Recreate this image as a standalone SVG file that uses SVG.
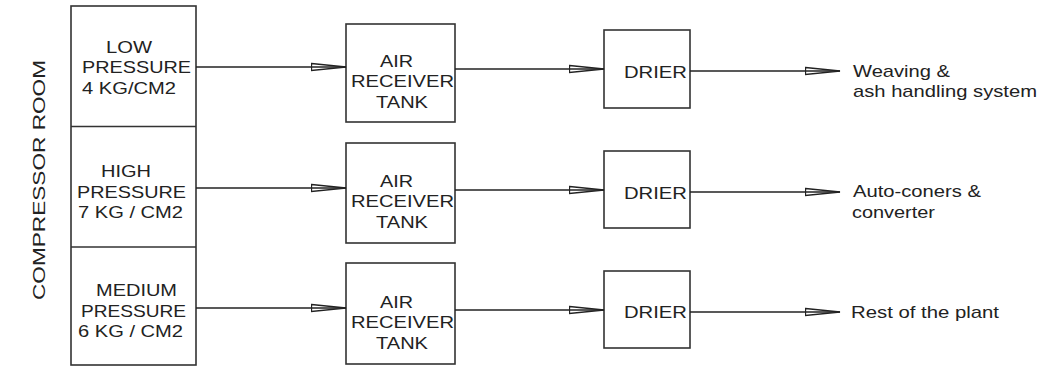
<svg xmlns="http://www.w3.org/2000/svg" width="1045" height="367" viewBox="0 0 1045 367">
<style>
.box{fill:#fff;stroke:#333;stroke-width:1.6}
.t{font-family:"Liberation Sans",Arial,sans-serif;font-size:17px;fill:#222}
.c{stroke:#222;stroke-width:1.5;fill:none}
</style>
<defs>
<marker id="ah" markerUnits="userSpaceOnUse" markerWidth="40" markerHeight="12" refX="35" refY="6" orient="auto" viewBox="0 0 40 12">
<path d="M0.5,2.5 L35,6 L0.5,9.5 Z" fill="none" stroke="#222" stroke-width="1.3"/>
</marker>
</defs>
<rect width="1045" height="367" fill="#fff"/>
<g id="compressor-room-label">
<text class="t" transform="translate(45,180) rotate(-90)" text-anchor="middle" font-size="25" fill="#333" textLength="240" lengthAdjust="spacingAndGlyphs">COMPRESSOR  ROOM</text>
</g>
<g id="compressors">
<rect class="box" x="71" y="6" width="125" height="359"/>
<line class="box" x1="71" y1="126.5" x2="196" y2="126.5"/>
<line class="box" x1="71" y1="247" x2="196" y2="247"/>
</g>
<g id="low-pressure">
<text class="t" x="106" y="53" textLength="46" lengthAdjust="spacingAndGlyphs">LOW</text>
<text class="t" x="82" y="73" textLength="109" lengthAdjust="spacingAndGlyphs">PRESSURE</text>
<text class="t" x="82" y="94" textLength="94" lengthAdjust="spacingAndGlyphs">4 KG/CM2</text>
</g>
<g id="high-pressure">
<text class="t" x="101" y="177" textLength="50" lengthAdjust="spacingAndGlyphs">HIGH</text>
<text class="t" x="77" y="198" textLength="109" lengthAdjust="spacingAndGlyphs">PRESSURE</text>
<text class="t" x="78" y="218" textLength="105" lengthAdjust="spacingAndGlyphs">7 KG / CM2</text>
</g>
<g id="medium-pressure">
<text class="t" x="96" y="296" textLength="81" lengthAdjust="spacingAndGlyphs">MEDIUM</text>
<text class="t" x="81" y="317" textLength="105" lengthAdjust="spacingAndGlyphs">PRESSURE</text>
<text class="t" x="78" y="337" textLength="105" lengthAdjust="spacingAndGlyphs">6 KG / CM2</text>
</g>
<g id="tank1">
<rect class="box" x="346" y="24" width="109" height="98"/>
<text class="t" x="380" y="67" textLength="33" lengthAdjust="spacingAndGlyphs">AIR</text>
<text class="t" x="351" y="87" textLength="103" lengthAdjust="spacingAndGlyphs">RECEIVER</text>
<text class="t" x="376" y="108" textLength="52" lengthAdjust="spacingAndGlyphs">TANK</text>
</g>
<g id="tank2">
<rect class="box" x="346" y="143" width="109" height="100"/>
<text class="t" x="380" y="187" textLength="33" lengthAdjust="spacingAndGlyphs">AIR</text>
<text class="t" x="351" y="207" textLength="103" lengthAdjust="spacingAndGlyphs">RECEIVER</text>
<text class="t" x="376" y="228" textLength="52" lengthAdjust="spacingAndGlyphs">TANK</text>
</g>
<g id="tank3">
<rect class="box" x="346" y="263" width="109" height="101"/>
<text class="t" x="380" y="308" textLength="33" lengthAdjust="spacingAndGlyphs">AIR</text>
<text class="t" x="351" y="328" textLength="103" lengthAdjust="spacingAndGlyphs">RECEIVER</text>
<text class="t" x="376" y="349" textLength="52" lengthAdjust="spacingAndGlyphs">TANK</text>
</g>
<g id="drier1">
<rect class="box" x="604" y="30" width="86" height="78"/>
<text class="t" x="624" y="78" textLength="63" lengthAdjust="spacingAndGlyphs">DRIER</text>
</g>
<g id="drier2">
<rect class="box" x="604" y="151" width="86" height="77"/>
<text class="t" x="624" y="199" textLength="63" lengthAdjust="spacingAndGlyphs">DRIER</text>
</g>
<g id="drier3">
<rect class="box" x="604" y="271" width="86" height="77"/>
<text class="t" x="624" y="318" textLength="63" lengthAdjust="spacingAndGlyphs">DRIER</text>
</g>
<g id="out1">
<text class="t" x="853" y="77" textLength="97" lengthAdjust="spacingAndGlyphs">Weaving &amp;</text>
<text class="t" x="853" y="97" textLength="184" lengthAdjust="spacingAndGlyphs">ash handling system</text>
</g>
<g id="out2">
<text class="t" x="853" y="197" textLength="128" lengthAdjust="spacingAndGlyphs">Auto-coners &amp;</text>
<text class="t" x="852" y="218" textLength="83" lengthAdjust="spacingAndGlyphs">converter</text>
</g>
<g id="out3">
<text class="t" x="851" y="318" textLength="148" lengthAdjust="spacingAndGlyphs">Rest of the plant</text>
</g>
<g id="connectors">
<line class="c" x1="196" y1="67" x2="346" y2="67" marker-end="url(#ah)"/>
<line class="c" x1="455" y1="69" x2="604" y2="69" marker-end="url(#ah)"/>
<line class="c" x1="690" y1="71" x2="840" y2="71" marker-end="url(#ah)"/>
<line class="c" x1="196" y1="188" x2="346" y2="188" marker-end="url(#ah)"/>
<line class="c" x1="455" y1="190" x2="604" y2="190" marker-end="url(#ah)"/>
<line class="c" x1="690" y1="192" x2="840" y2="192" marker-end="url(#ah)"/>
<line class="c" x1="196" y1="308" x2="346" y2="308" marker-end="url(#ah)"/>
<line class="c" x1="455" y1="310" x2="604" y2="310" marker-end="url(#ah)"/>
<line class="c" x1="690" y1="312" x2="840" y2="312" marker-end="url(#ah)"/>
</g>
</svg>
